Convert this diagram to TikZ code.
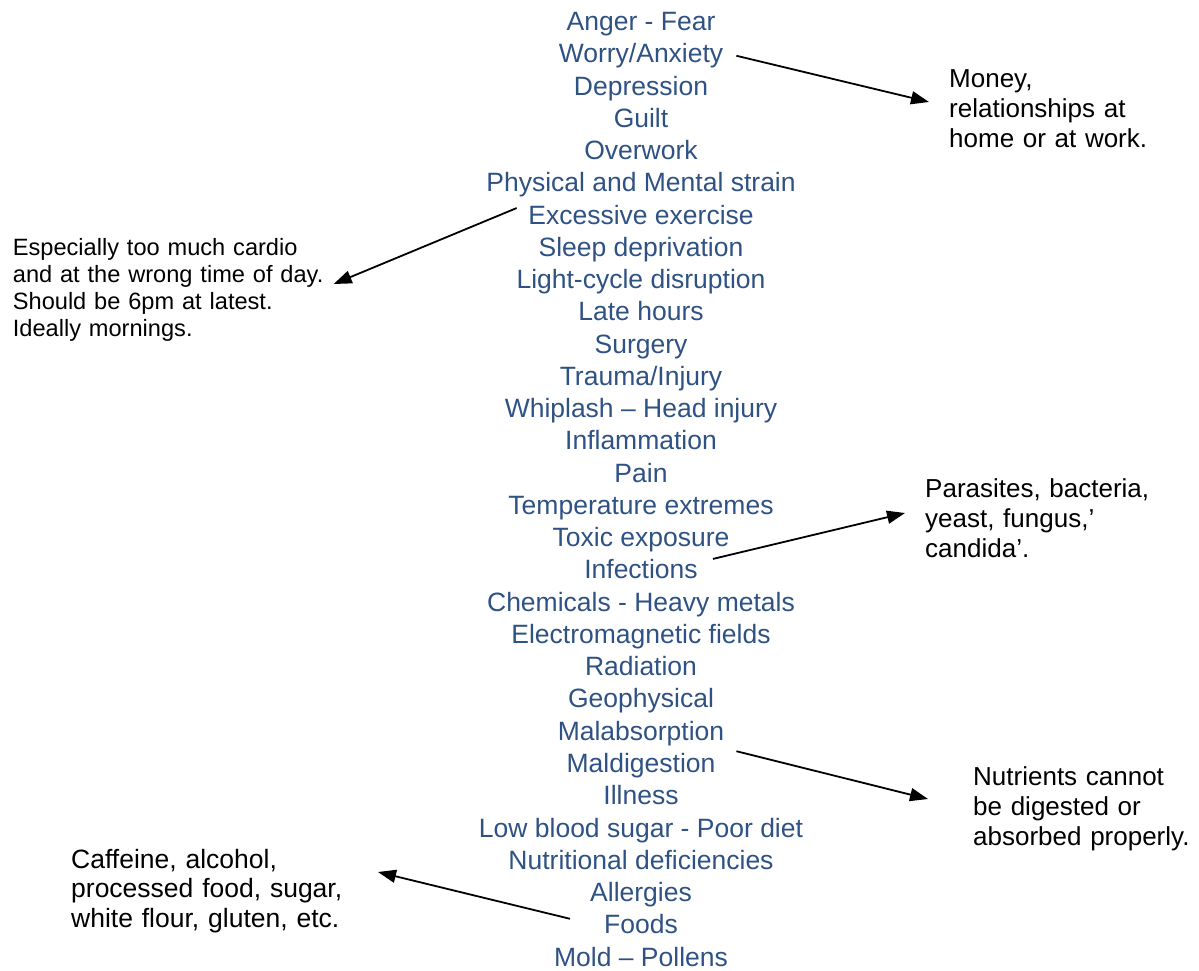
\documentclass[tikz,border=0pt]{standalone}
\usepackage{fontspec}
\setmainfont{Liberation Sans}
\usetikzlibrary{arrows.meta}
\definecolor{listblue}{RGB}{47,82,132}
\begin{document}
\begin{tikzpicture}[x=1pt,y=-1pt,
  item/.style={anchor=base, inner sep=0pt, text=listblue, font=\fontsize{26.5}{32}\selectfont},
  note/.style={anchor=base west, inner sep=0pt, align=left, text width=330pt, font=\fontsize{26}{30}\selectfont},
  arr/.style={line width=1.8pt, -{Triangle[length=18pt,width=13pt]}}]
\useasboundingbox (0,0) rectangle (1199,971);
\foreach \t [count=\i from 0] in {Anger - Fear, Worry/Anxiety, Depression, Guilt, Overwork, Physical and Mental strain, Excessive exercise, Sleep deprivation, Light-cycle disruption, Late hours, Surgery, Trauma/Injury, Whiplash -- Head injury, Inflammation, Pain, Temperature extremes, Toxic exposure, Infections, Chemicals - Heavy metals, Electromagnetic fields, Radiation, Geophysical, Malabsorption, Maldigestion, Illness, Low blood sugar - Poor diet, Nutritional deficiencies, Allergies, Foods, Mold -- Pollens}
  \node[item] (i\i) at (641, {30.5+32.26*\i}) {\t};

\node[note] (money) at (949,88) {Money,\\relationships at\\home or at work.};
\node[note, font=\fontsize{23.6}{27}\selectfont] (cardio) at (12.7,255) {Especially too much cardio\\and at the wrong time of day.\\Should be 6pm at latest.\\Ideally mornings.};
\node[note] (parasites) at (925,497) {Parasites, bacteria,\\yeast, fungus,’\\candida’.};
\node[note] (nutrients) at (973,785) {Nutrients cannot\\be digested or\\absorbed properly.};
\node[note, font=\fontsize{26.5}{29.5}\selectfont] (caffeine) at (71,868) {Caffeine, alcohol,\\processed food, sugar,\\white flour, gluten, etc.};

\draw[arr] ([shift={(13,-7)}]i1.base east) -- ([shift={(-20,14)}]money.base west);
\draw[arr] ([shift={(-11.5,-16)}]i6.base west) -- ([shift={(321,29)}]cardio.base west);
\draw[arr] ([shift={(15,-20)}]i17.base east) -- ([shift={(-20,16)}]parasites.base west);
\draw[arr] ([shift={(12,11)}]i22.base east) -- ([shift={(-45,14)}]nutrients.base west);
\draw[arr] ([shift={(-34,-15)}]i28.base west) -- ([shift={(307,4)}]caffeine.base west);
\end{tikzpicture}
\end{document}
